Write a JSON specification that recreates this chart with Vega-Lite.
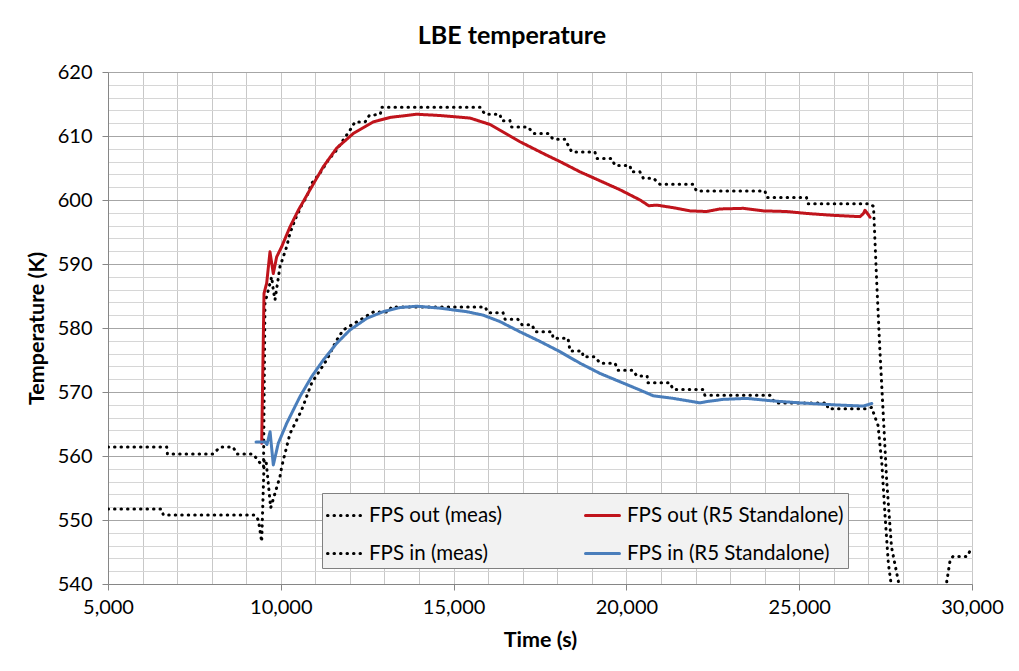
{
 "$schema": "https://vega.github.io/schema/vega-lite/v6.json",
 "width": 864,
 "height": 512,
 "autosize": "none",
 "padding": {"left": 108, "top": 72, "right": 47, "bottom": 87},
 "background": "white",
 "config": {
  "font": "Lato",
  "view": {"stroke": null},
  "legend": {
   "orient": "none", "legendX": 214, "legendY": 421, "columns": 2,
   "fillColor": "#f2f2f2", "strokeColor": "#808080", "padding": 4,
   "symbolType": "stroke", "symbolSize": 1156, "labelFontSize": 20.5, "labelFont": "Lato",
   "labelColor": "#000000", "labelOffset": 6, "columnPadding": 76, "rowPadding": 9, "labelLimit": 400
  }
 },
 "title": {"text": "LBE temperature", "fontSize": 25, "fontWeight": "bold", "font": "Lato", "color": "#000000", "anchor": "middle", "frame": "group", "dx": -28, "offset": 13},
 "data": {"values": [
  {"s":"FPS out (meas)","t":5000,"v":561.4},{"s":"FPS out (meas)","t":6700,"v":561.4},{"s":"FPS out (meas)","t":6720,"v":560.3},{"s":"FPS out (meas)","t":8040,"v":560.3},{"s":"FPS out (meas)","t":8240,"v":561.4},{"s":"FPS out (meas)","t":8620,"v":561.4},{"s":"FPS out (meas)","t":8730,"v":560.3},{"s":"FPS out (meas)","t":9200,"v":560.3},{"s":"FPS out (meas)","t":9400,"v":558.9},{"s":"FPS out (meas)","t":9500,"v":558.3},{"s":"FPS out (meas)","t":9543,"v":583.9},{"s":"FPS out (meas)","t":9736,"v":588.0},{"s":"FPS out (meas)","t":9783,"v":585.9},{"s":"FPS out (meas)","t":9832,"v":584.4},{"s":"FPS out (meas)","t":9977,"v":589.6},{"s":"FPS out (meas)","t":10170,"v":592.7},{"s":"FPS out (meas)","t":10266,"v":594.8},{"s":"FPS out (meas)","t":10411,"v":596.9},{"s":"FPS out (meas)","t":10604,"v":599.2},{"s":"FPS out (meas)","t":10749,"v":600.5},{"s":"FPS out (meas)","t":10893,"v":602.6},{"s":"FPS out (meas)","t":11134,"v":604.2},{"s":"FPS out (meas)","t":11375,"v":606.25},{"s":"FPS out (meas)","t":11616,"v":607.8},{"s":"FPS out (meas)","t":11808,"v":609.4},{"s":"FPS out (meas)","t":12002,"v":610.9},{"s":"FPS out (meas)","t":12147,"v":612.2},{"s":"FPS out (meas)","t":12440,"v":612.2},{"s":"FPS out (meas)","t":12560,"v":613.2},{"s":"FPS out (meas)","t":12880,"v":613.4},{"s":"FPS out (meas)","t":12920,"v":614.5},{"s":"FPS out (meas)","t":15764,"v":614.5},{"s":"FPS out (meas)","t":15908,"v":613.4},{"s":"FPS out (meas)","t":16340,"v":613.4},{"s":"FPS out (meas)","t":16390,"v":612.4},{"s":"FPS out (meas)","t":16630,"v":612.4},{"s":"FPS out (meas)","t":16680,"v":611.4},{"s":"FPS out (meas)","t":17160,"v":611.4},{"s":"FPS out (meas)","t":17300,"v":610.4},{"s":"FPS out (meas)","t":17740,"v":610.4},{"s":"FPS out (meas)","t":17880,"v":609.5},{"s":"FPS out (meas)","t":18220,"v":609.5},{"s":"FPS out (meas)","t":18420,"v":607.5},{"s":"FPS out (meas)","t":19090,"v":607.5},{"s":"FPS out (meas)","t":19140,"v":606.5},{"s":"FPS out (meas)","t":19570,"v":606.5},{"s":"FPS out (meas)","t":19670,"v":605.4},{"s":"FPS out (meas)","t":20100,"v":605.4},{"s":"FPS out (meas)","t":20150,"v":604.4},{"s":"FPS out (meas)","t":20390,"v":604.4},{"s":"FPS out (meas)","t":20490,"v":603.4},{"s":"FPS out (meas)","t":20780,"v":603.4},{"s":"FPS out (meas)","t":20970,"v":602.45},{"s":"FPS out (meas)","t":21930,"v":602.45},{"s":"FPS out (meas)","t":22030,"v":601.4},{"s":"FPS out (meas)","t":24010,"v":601.4},{"s":"FPS out (meas)","t":24060,"v":600.4},{"s":"FPS out (meas)","t":25210,"v":600.4},{"s":"FPS out (meas)","t":25260,"v":599.4},{"s":"FPS out (meas)","t":27050,"v":599.4},{"s":"FPS out (meas)","t":27150,"v":599.0},{"s":"FPS out (meas)","t":27240,"v":587.5},{"s":"FPS out (meas)","t":27330,"v":577.0},{"s":"FPS out (meas)","t":27430,"v":566.7},{"s":"FPS out (meas)","t":27530,"v":556.25},{"s":"FPS out (meas)","t":27670,"v":545.8},{"s":"FPS out (meas)","t":27870,"v":540.4},{"s":"FPS out (meas)","t":28100,"v":528},
  {"s":"FPS in (meas)","t":5000,"v":551.7},{"s":"FPS in (meas)","t":6550,"v":551.7},{"s":"FPS in (meas)","t":6600,"v":550.8},{"s":"FPS in (meas)","t":9250,"v":550.8},{"s":"FPS in (meas)","t":9350,"v":550.0},{"s":"FPS in (meas)","t":9447,"v":546.6},{"s":"FPS in (meas)","t":9520,"v":559.5},{"s":"FPS in (meas)","t":9580,"v":558.9},{"s":"FPS in (meas)","t":9707,"v":551.9},{"s":"FPS in (meas)","t":9977,"v":556.8},{"s":"FPS in (meas)","t":10025,"v":558.3},{"s":"FPS in (meas)","t":10266,"v":563.5},{"s":"FPS in (meas)","t":10604,"v":567.2},{"s":"FPS in (meas)","t":10893,"v":571.4},{"s":"FPS in (meas)","t":11327,"v":575.0},{"s":"FPS in (meas)","t":11616,"v":578.1},{"s":"FPS in (meas)","t":11808,"v":579.7},{"s":"FPS in (meas)","t":12292,"v":581.25},{"s":"FPS in (meas)","t":12678,"v":582.5},{"s":"FPS in (meas)","t":13100,"v":582.5},{"s":"FPS in (meas)","t":13208,"v":583.3},{"s":"FPS in (meas)","t":15910,"v":583.3},{"s":"FPS in (meas)","t":16000,"v":582.4},{"s":"FPS in (meas)","t":16430,"v":582.4},{"s":"FPS in (meas)","t":16490,"v":581.35},{"s":"FPS in (meas)","t":16860,"v":581.35},{"s":"FPS in (meas)","t":16980,"v":580.5},{"s":"FPS in (meas)","t":17270,"v":580.5},{"s":"FPS in (meas)","t":17360,"v":579.4},{"s":"FPS in (meas)","t":17850,"v":579.4},{"s":"FPS in (meas)","t":17880,"v":578.4},{"s":"FPS in (meas)","t":18310,"v":578.4},{"s":"FPS in (meas)","t":18370,"v":576.4},{"s":"FPS in (meas)","t":18720,"v":576.4},{"s":"FPS in (meas)","t":18750,"v":575.5},{"s":"FPS in (meas)","t":19090,"v":575.5},{"s":"FPS in (meas)","t":19240,"v":574.5},{"s":"FPS in (meas)","t":19670,"v":574.5},{"s":"FPS in (meas)","t":19760,"v":573.4},{"s":"FPS in (meas)","t":20190,"v":573.4},{"s":"FPS in (meas)","t":20300,"v":572.5},{"s":"FPS in (meas)","t":20600,"v":572.5},{"s":"FPS in (meas)","t":20620,"v":571.45},{"s":"FPS in (meas)","t":21260,"v":571.45},{"s":"FPS in (meas)","t":21350,"v":570.4},{"s":"FPS in (meas)","t":22220,"v":570.4},{"s":"FPS in (meas)","t":22270,"v":569.5},{"s":"FPS in (meas)","t":24150,"v":569.5},{"s":"FPS in (meas)","t":24300,"v":568.3},{"s":"FPS in (meas)","t":25800,"v":568.3},{"s":"FPS in (meas)","t":25830,"v":567.4},{"s":"FPS in (meas)","t":26960,"v":567.4},{"s":"FPS in (meas)","t":27100,"v":567.6},{"s":"FPS in (meas)","t":27190,"v":566.1},{"s":"FPS in (meas)","t":27280,"v":564.8},{"s":"FPS in (meas)","t":27390,"v":558.9},{"s":"FPS in (meas)","t":27480,"v":551.0},{"s":"FPS in (meas)","t":27580,"v":543.2},{"s":"FPS in (meas)","t":27650,"v":540.4},{"s":"FPS in (meas)","t":27800,"v":528},{"s":"FPS in (meas)","t":29200,"v":528},{"s":"FPS in (meas)","t":29270,"v":540.4},{"s":"FPS in (meas)","t":29370,"v":543.8},{"s":"FPS in (meas)","t":29450,"v":544.3},{"s":"FPS in (meas)","t":29860,"v":544.3},{"s":"FPS in (meas)","t":30000,"v":545.8},
  {"s":"FPS out (R5 Standalone)","t":9447,"v":562.0},{"s":"FPS out (R5 Standalone)","t":9514,"v":585.4},{"s":"FPS out (R5 Standalone)","t":9591,"v":587.0},{"s":"FPS out (R5 Standalone)","t":9687,"v":591.9},{"s":"FPS out (R5 Standalone)","t":9783,"v":588.5},{"s":"FPS out (R5 Standalone)","t":9880,"v":591.1},{"s":"FPS out (R5 Standalone)","t":10025,"v":592.7},{"s":"FPS out (R5 Standalone)","t":10266,"v":595.8},{"s":"FPS out (R5 Standalone)","t":10507,"v":598.4},{"s":"FPS out (R5 Standalone)","t":10845,"v":601.6},{"s":"FPS out (R5 Standalone)","t":11230,"v":605.2},{"s":"FPS out (R5 Standalone)","t":11616,"v":608.1},{"s":"FPS out (R5 Standalone)","t":12098,"v":610.4},{"s":"FPS out (R5 Standalone)","t":12678,"v":612.2},{"s":"FPS out (R5 Standalone)","t":13160,"v":612.9},{"s":"FPS out (R5 Standalone)","t":13932,"v":613.4},{"s":"FPS out (R5 Standalone)","t":14606,"v":613.2},{"s":"FPS out (R5 Standalone)","t":15475,"v":612.8},{"s":"FPS out (R5 Standalone)","t":16053,"v":611.8},{"s":"FPS out (R5 Standalone)","t":16342,"v":610.9},{"s":"FPS out (R5 Standalone)","t":16921,"v":609.1},{"s":"FPS out (R5 Standalone)","t":17693,"v":607.0},{"s":"FPS out (R5 Standalone)","t":18079,"v":606.0},{"s":"FPS out (R5 Standalone)","t":18657,"v":604.4},{"s":"FPS out (R5 Standalone)","t":19236,"v":603.0},{"s":"FPS out (R5 Standalone)","t":19815,"v":601.6},{"s":"FPS out (R5 Standalone)","t":20394,"v":600.0},{"s":"FPS out (R5 Standalone)","t":20650,"v":599.1},{"s":"FPS out (R5 Standalone)","t":20876,"v":599.2},{"s":"FPS out (R5 Standalone)","t":21357,"v":598.8},{"s":"FPS out (R5 Standalone)","t":21840,"v":598.3},{"s":"FPS out (R5 Standalone)","t":22322,"v":598.2},{"s":"FPS out (R5 Standalone)","t":22708,"v":598.6},{"s":"FPS out (R5 Standalone)","t":23383,"v":598.7},{"s":"FPS out (R5 Standalone)","t":23962,"v":598.3},{"s":"FPS out (R5 Standalone)","t":24637,"v":598.2},{"s":"FPS out (R5 Standalone)","t":25210,"v":597.9},{"s":"FPS out (R5 Standalone)","t":25990,"v":597.6},{"s":"FPS out (R5 Standalone)","t":26760,"v":597.4},{"s":"FPS out (R5 Standalone)","t":26860,"v":597.9},{"s":"FPS out (R5 Standalone)","t":26904,"v":598.4},{"s":"FPS out (R5 Standalone)","t":27000,"v":597.7},{"s":"FPS out (R5 Standalone)","t":27050,"v":597.3},
  {"s":"FPS in (R5 Standalone)","t":9283,"v":562.2},{"s":"FPS in (R5 Standalone)","t":9540,"v":562.2},{"s":"FPS in (R5 Standalone)","t":9600,"v":561.8},{"s":"FPS in (R5 Standalone)","t":9690,"v":563.8},{"s":"FPS in (R5 Standalone)","t":9783,"v":558.6},{"s":"FPS in (R5 Standalone)","t":9928,"v":562.0},{"s":"FPS in (R5 Standalone)","t":10170,"v":565.1},{"s":"FPS in (R5 Standalone)","t":10556,"v":569.3},{"s":"FPS in (R5 Standalone)","t":10893,"v":572.4},{"s":"FPS in (R5 Standalone)","t":11230,"v":575.0},{"s":"FPS in (R5 Standalone)","t":11616,"v":577.6},{"s":"FPS in (R5 Standalone)","t":12002,"v":579.7},{"s":"FPS in (R5 Standalone)","t":12485,"v":581.5},{"s":"FPS in (R5 Standalone)","t":12967,"v":582.55},{"s":"FPS in (R5 Standalone)","t":13449,"v":583.2},{"s":"FPS in (R5 Standalone)","t":13932,"v":583.4},{"s":"FPS in (R5 Standalone)","t":14606,"v":583.1},{"s":"FPS in (R5 Standalone)","t":15379,"v":582.55},{"s":"FPS in (R5 Standalone)","t":15860,"v":582.0},{"s":"FPS in (R5 Standalone)","t":16342,"v":581.0},{"s":"FPS in (R5 Standalone)","t":16921,"v":579.4},{"s":"FPS in (R5 Standalone)","t":17500,"v":577.9},{"s":"FPS in (R5 Standalone)","t":18079,"v":576.3},{"s":"FPS in (R5 Standalone)","t":18657,"v":574.5},{"s":"FPS in (R5 Standalone)","t":19236,"v":572.9},{"s":"FPS in (R5 Standalone)","t":19815,"v":571.6},{"s":"FPS in (R5 Standalone)","t":20394,"v":570.3},{"s":"FPS in (R5 Standalone)","t":20780,"v":569.4},{"s":"FPS in (R5 Standalone)","t":21357,"v":569.0},{"s":"FPS in (R5 Standalone)","t":22129,"v":568.3},{"s":"FPS in (R5 Standalone)","t":22322,"v":568.5},{"s":"FPS in (R5 Standalone)","t":22804,"v":568.85},{"s":"FPS in (R5 Standalone)","t":23480,"v":569.0},{"s":"FPS in (R5 Standalone)","t":24250,"v":568.6},{"s":"FPS in (R5 Standalone)","t":25020,"v":568.3},{"s":"FPS in (R5 Standalone)","t":25990,"v":568.0},{"s":"FPS in (R5 Standalone)","t":26860,"v":567.8},{"s":"FPS in (R5 Standalone)","t":27100,"v":568.2}
 ]},
 "mark": {"type": "line", "clip": true, "strokeCap": "round", "strokeJoin": "round"},
 "encoding": {
  "x": {"field": "t", "type": "quantitative",
   "scale": {"domain": [5000, 30000], "nice": false, "zero": false},
   "axis": {"values": [5000,6000,7000,8000,9000,10000,11000,12000,13000,14000,15000,16000,17000,18000,19000,20000,21000,22000,23000,24000,25000,26000,27000,28000,29000,30000],
    "labelExpr": "datum.value % 5000 === 0 ? format(datum.value, ',') : ''", "labelOverlap": false, "labelFlush": false,
    "grid": true, "gridColor": "#c8c8c8", "gridWidth": 1,
    "tickSize": 6, "tickColor": "#868686", "tickOpacity": {"condition": {"test": "datum.value % 5000 === 0", "value": 1}, "value": 0},
    "domainColor": "#868686", "labelFontSize": 20, "labelFont": "Lato", "labelColor": "#000000", "labelPadding": 7,
    "title": "Time (s)", "titleFontSize": 21.5, "titleFont": "Lato", "titleFontWeight": "bold", "titleColor": "#000000", "titlePadding": 12}},
  "y": {"field": "v", "type": "quantitative",
   "scale": {"domain": [540, 620], "nice": false, "zero": false},
   "axis": {"values": [540,542,544,546,548,550,552,554,556,558,560,562,564,566,568,570,572,574,576,578,580,582,584,586,588,590,592,594,596,598,600,602,604,606,608,610,612,614,616,618,620],
    "labelExpr": "datum.value % 10 === 0 ? datum.label : ''", "labelOverlap": false, "labelFlush": false,
    "grid": true, "gridColor": {"condition": {"test": "datum.value % 10 === 0", "value": "#a6a6a6"}, "value": "#d6d6d6"}, "gridWidth": 1,
    "tickSize": 6, "tickColor": "#868686", "tickOpacity": {"condition": {"test": "datum.value % 10 === 0", "value": 1}, "value": 0},
    "domainColor": "#868686", "labelFontSize": 20, "labelFont": "Lato", "labelColor": "#000000", "labelPadding": 10,
    "title": "Temperature (K)", "titleFontSize": 21.5, "titleFont": "Lato", "titleFontWeight": "bold", "titleColor": "#000000", "titlePadding": 9}},
  "color": {"field": "s", "type": "nominal",
   "scale": {"domain": ["FPS out (meas)", "FPS in (meas)", "FPS out (R5 Standalone)", "FPS in (R5 Standalone)"], "range": ["#000000", "#000000", "#c0141c", "#4a7ebb"]},
   "legend": {"title": null, "encode": {"symbols": {"update": {"strokeCap": {"value": "round"}}}}}},
  "strokeDash": {"field": "s", "type": "nominal",
   "scale": {"domain": ["FPS out (meas)", "FPS in (meas)", "FPS out (R5 Standalone)", "FPS in (R5 Standalone)"], "range": [[0.5, 6], [0.5, 6], [1, 0], [1, 0]]},
   "legend": {"title": null}},
  "strokeWidth": {"field": "s", "type": "nominal",
   "scale": {"domain": ["FPS out (meas)", "FPS in (meas)", "FPS out (R5 Standalone)", "FPS in (R5 Standalone)"], "range": [3, 3, 2, 2]},
   "legend": {"title": null}}
 }
}
